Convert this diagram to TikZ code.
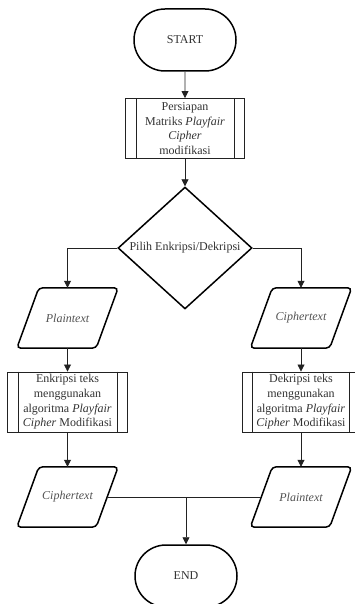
\documentclass[tikz,border=0pt]{standalone}
\usepackage{fontspec}
\setmainfont{Liberation Serif}
\usetikzlibrary{shapes.geometric,shapes.misc,arrows.meta}
\definecolor{ink}{HTML}{222222}
\definecolor{txt}{HTML}{333333}
\tikzset{
  every node/.style={font=\fontsize{12}{14.6}\selectfont, text=txt},
  term/.style={rounded rectangle, draw=black, line width=1.5pt, minimum width=102pt, minimum height=62pt, inner sep=0pt},
  proc/.style={rectangle, draw=ink, line width=0.9pt, minimum width=119pt, minimum height=60pt, inner sep=1pt, align=center},
  decis/.style={diamond, draw=black, line width=1.5pt, minimum width=134pt, minimum height=120pt, inner sep=0pt},
  io/.style={rectangle, minimum width=79pt, minimum height=60pt, inner sep=0pt, font=\fontsize{12}{14.6}\selectfont\itshape, text=txt!85!white},
  ioborder/.style={draw=black, line width=1.5pt, rounded corners=4pt},
  conn/.style={draw=ink, line width=0.8pt},
  arr/.style={conn, -{Triangle[length=7pt,width=7pt]}},
  side/.style={draw=ink, line width=0.9pt}
}
\begin{document}
\begin{tikzpicture}[x=1pt,y=-1pt]
\clip (0,0) rectangle (355,604);
\fill[white] (0,0) rectangle (355,604);
\node[term] (start) at (185,40) {START};
\node[proc] (prep) at (185,128.5) {Persiapan\\Matriks \textit{Playfair}\\\textit{Cipher}\\modifikasi};
\node[decis] (pilih) at (185,248) {Pilih Enkripsi/Dekripsi};
\node[io] (plain1) at (67.5,318) {Plaintext};
\node[io] (ciph1) at (301,318) {Ciphertext};
\node[proc, minimum width=120pt] (enk) at (67.5,402) {Enkripsi teks\\menggunakan\\algoritma \textit{Playfair}\\\textit{Cipher} Modifikasi};
\node[proc, minimum width=118pt] (dek) at (301,402) {Dekripsi teks\\menggunakan\\algoritma \textit{Playfair}\\\textit{Cipher} Modifikasi};
\node[io] (ciph2) at (67.5,497) {Ciphertext};
\node[io] (plain2) at (301,497) {Plaintext};
\node[term] (end) at (186,576) {END};
% parallelogram outlines of the input/output nodes
\foreach \n in {plain1,ciph1,ciph2,plain2}{
  \draw[ioborder] ([xshift=11pt]\n.north west) -- ([xshift=11pt]\n.north east)
     -- ([xshift=-11pt]\n.south east) -- ([xshift=-11pt]\n.south west) -- cycle;
}
% inner side lines of predefined process boxes
\foreach \n in {prep,enk,dek}{
  \draw[side] ([xshift=11pt]\n.north west) -- ([xshift=11pt]\n.south west);
  \draw[side] ([xshift=-11pt]\n.north east) -- ([xshift=-11pt]\n.south east);
}
% connectors
\draw[arr] (start) -- (prep);
\draw[arr] (prep) -- (pilih);
\draw[arr] (pilih.west) -| (plain1.north);
\draw[arr] (pilih.east) -| (ciph1.north);
\draw[arr] (plain1) -- (enk);
\draw[arr] (ciph1) -- (dek);
\draw[arr] (enk) -- (ciph2);
\draw[arr] (dek) -- (plain2);
\draw[conn] (ciph2.east) -- (plain2.west);
\coordinate (join) at (end.north |- ciph2.east);
\draw[arr] (join) -- (end.north);
\end{tikzpicture}
\end{document}
